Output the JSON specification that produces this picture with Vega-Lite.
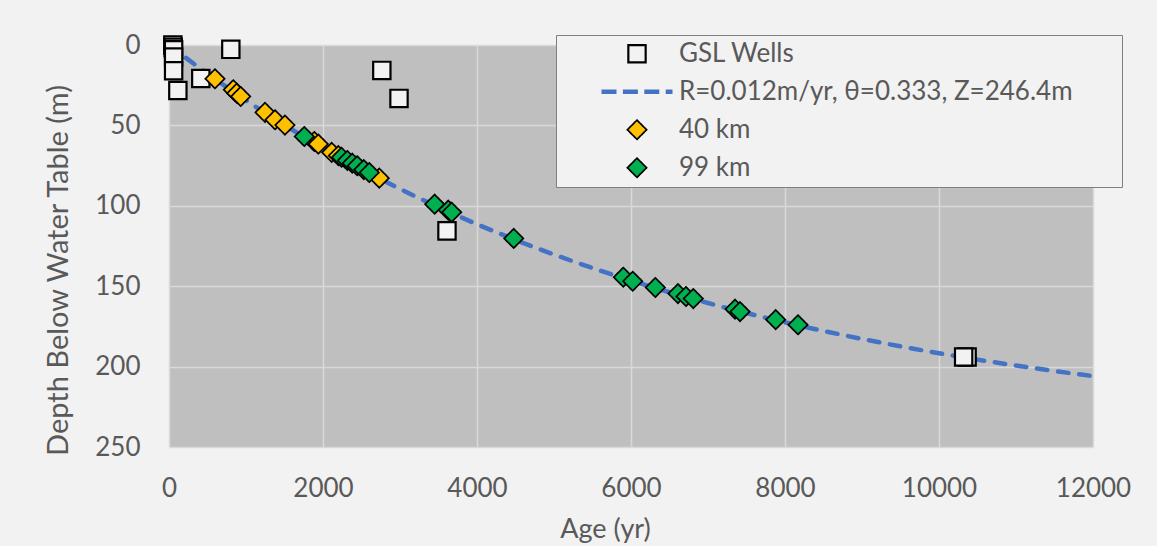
{
  "$schema": "https://vega.github.io/schema/vega-lite/v6.json",
  "width": 924,
  "height": 402,
  "autosize": {"type": "none"},
  "padding": {"left": 169, "top": 45, "right": 64, "bottom": 99},
  "background": "#F2F2F2",
  "config": {
    "font": "Lato",
    "view": {"fill": "#BFBFBF", "stroke": null},
    "legend": {
      "orient": "none",
      "legendX": 387,
      "legendY": -10,
      "padding": 0,
      "clipHeight": 37.5,
      "rowPadding": 0,
      "symbolOffset": 43,
      "labelOffset": 4,
      "labelFont": "Lato",
      "labelFontSize": 26,
      "labelColor": "#595959",
      "labelBaseline": "middle",
      "labelLimit": 600,
      "fillColor": "#F2F2F2",
      "strokeColor": "#7F7F7F",
      "symbolOpacity": 1,
      "titleOrient": "right",
      "titlePadding": 49,
      "titleFontSize": 10
    }
  },
  "datasets": {
    "curve": [
      {"series": "R=0.012m/yr, θ=0.333, Z=246.4m", "age": 0, "depth": 0},
      {"series": "R=0.012m/yr, θ=0.333, Z=246.4m", "age": 250, "depth": 9.1},
      {"series": "R=0.012m/yr, θ=0.333, Z=246.4m", "age": 500, "depth": 17.86},
      {"series": "R=0.012m/yr, θ=0.333, Z=246.4m", "age": 1000, "depth": 34.42},
      {"series": "R=0.012m/yr, θ=0.333, Z=246.4m", "age": 1500, "depth": 49.79},
      {"series": "R=0.012m/yr, θ=0.333, Z=246.4m", "age": 2000, "depth": 64.04},
      {"series": "R=0.012m/yr, θ=0.333, Z=246.4m", "age": 2500, "depth": 77.26},
      {"series": "R=0.012m/yr, θ=0.333, Z=246.4m", "age": 3000, "depth": 89.52},
      {"series": "R=0.012m/yr, θ=0.333, Z=246.4m", "age": 3500, "depth": 100.89},
      {"series": "R=0.012m/yr, θ=0.333, Z=246.4m", "age": 4000, "depth": 111.43},
      {"series": "R=0.012m/yr, θ=0.333, Z=246.4m", "age": 4500, "depth": 121.22},
      {"series": "R=0.012m/yr, θ=0.333, Z=246.4m", "age": 5000, "depth": 130.29},
      {"series": "R=0.012m/yr, θ=0.333, Z=246.4m", "age": 5500, "depth": 138.7},
      {"series": "R=0.012m/yr, θ=0.333, Z=246.4m", "age": 6000, "depth": 146.51},
      {"series": "R=0.012m/yr, θ=0.333, Z=246.4m", "age": 6500, "depth": 153.75},
      {"series": "R=0.012m/yr, θ=0.333, Z=246.4m", "age": 7000, "depth": 160.47},
      {"series": "R=0.012m/yr, θ=0.333, Z=246.4m", "age": 7500, "depth": 166.69},
      {"series": "R=0.012m/yr, θ=0.333, Z=246.4m", "age": 8000, "depth": 172.47},
      {"series": "R=0.012m/yr, θ=0.333, Z=246.4m", "age": 8500, "depth": 177.83},
      {"series": "R=0.012m/yr, θ=0.333, Z=246.4m", "age": 9000, "depth": 182.8},
      {"series": "R=0.012m/yr, θ=0.333, Z=246.4m", "age": 9500, "depth": 187.41},
      {"series": "R=0.012m/yr, θ=0.333, Z=246.4m", "age": 10000, "depth": 191.68},
      {"series": "R=0.012m/yr, θ=0.333, Z=246.4m", "age": 10500, "depth": 195.65},
      {"series": "R=0.012m/yr, θ=0.333, Z=246.4m", "age": 11000, "depth": 199.33},
      {"series": "R=0.012m/yr, θ=0.333, Z=246.4m", "age": 11500, "depth": 202.74},
      {"series": "R=0.012m/yr, θ=0.333, Z=246.4m", "age": 12000, "depth": 205.9}
    ],
    "samples": [
      {"series": "GSL Wells", "age": 50, "depth": 0},
      {"series": "GSL Wells", "age": 55, "depth": 1.5},
      {"series": "GSL Wells", "age": 60, "depth": 3},
      {"series": "GSL Wells", "age": 60, "depth": 7.5},
      {"series": "GSL Wells", "age": 60, "depth": 16},
      {"series": "GSL Wells", "age": 115, "depth": 28.3},
      {"series": "GSL Wells", "age": 413, "depth": 20.8},
      {"series": "GSL Wells", "age": 803, "depth": 2.7},
      {"series": "GSL Wells", "age": 2764, "depth": 15.8},
      {"series": "GSL Wells", "age": 2987, "depth": 33.2},
      {"series": "GSL Wells", "age": 3610, "depth": 115.6},
      {"series": "GSL Wells", "age": 10365, "depth": 194},
      {"series": "GSL Wells", "age": 10320, "depth": 194},
      {"series": "40 km", "age": 597, "depth": 21.0},
      {"series": "40 km", "age": 835, "depth": 27.8},
      {"series": "40 km", "age": 880, "depth": 30.0},
      {"series": "40 km", "age": 931, "depth": 32.0},
      {"series": "40 km", "age": 1247, "depth": 41.9},
      {"series": "40 km", "age": 1377, "depth": 46.5},
      {"series": "40 km", "age": 1506, "depth": 49.8},
      {"series": "40 km", "age": 1887, "depth": 60.0},
      {"series": "40 km", "age": 1939, "depth": 61.6},
      {"series": "40 km", "age": 2113, "depth": 66.8},
      {"series": "40 km", "age": 2200, "depth": 68.8},
      {"series": "40 km", "age": 2731, "depth": 82.8},
      {"series": "99 km", "age": 1757, "depth": 56.9},
      {"series": "99 km", "age": 2240, "depth": 69.8},
      {"series": "99 km", "age": 2316, "depth": 71.8},
      {"series": "99 km", "age": 2380, "depth": 73.5},
      {"series": "99 km", "age": 2445, "depth": 75.1},
      {"series": "99 km", "age": 2530, "depth": 77.5},
      {"series": "99 km", "age": 2601, "depth": 79.3},
      {"series": "99 km", "age": 3450, "depth": 99.0},
      {"series": "99 km", "age": 3627, "depth": 102.7},
      {"series": "99 km", "age": 3671, "depth": 104.0},
      {"series": "99 km", "age": 4477, "depth": 120.3},
      {"series": "99 km", "age": 5900, "depth": 144.4},
      {"series": "99 km", "age": 6022, "depth": 146.9},
      {"series": "99 km", "age": 6316, "depth": 150.8},
      {"series": "99 km", "age": 6610, "depth": 154.6},
      {"series": "99 km", "age": 6714, "depth": 156.4},
      {"series": "99 km", "age": 6809, "depth": 157.7},
      {"series": "99 km", "age": 7351, "depth": 164.3},
      {"series": "99 km", "age": 7416, "depth": 165.8},
      {"series": "99 km", "age": 7879, "depth": 170.8},
      {"series": "99 km", "age": 8169, "depth": 174.0}
    ]
  },
  "encoding": {
    "x": {
      "field": "age",
      "type": "quantitative",
      "scale": {"domain": [0, 12000], "nice": false, "zero": false},
      "axis": {
        "title": "Age (yr)",
        "values": [0, 2000, 4000, 6000, 8000, 10000, 12000],
        "format": "d",
        "grid": true,
        "gridColor": "#D9D9D9",
        "gridWidth": 1.5,
        "domain": false,
        "ticks": false,
        "tickSize": 0,
        "labelFlush": false,
        "labelFont": "Lato",
        "labelFontSize": 26,
        "labelColor": "#595959",
        "labelBaseline": "top",
        "labelPadding": 28,
        "titleFont": "Lato",
        "titleFontSize": 27,
        "titleFontWeight": "normal",
        "titleColor": "#595959",
        "titleBaseline": "alphabetic",
        "titleAlign": "center",
        "titleX": 436,
        "titleY": 90
      }
    },
    "y": {
      "field": "depth",
      "type": "quantitative",
      "scale": {"domain": [0, 250], "reverse": true, "nice": false},
      "axis": {
        "title": "Depth Below Water Table (m)",
        "values": [0, 50, 100, 150, 200, 250],
        "grid": true,
        "gridColor": "#D9D9D9",
        "gridWidth": 1.5,
        "domain": false,
        "ticks": false,
        "tickSize": 0,
        "labelFlush": false,
        "labelFont": "Lato",
        "labelFontSize": 26,
        "labelColor": "#595959",
        "labelPadding": 29,
        "titleFont": "Lato",
        "titleFontSize": 29,
        "titleFontWeight": "normal",
        "titleColor": "#595959",
        "titleBaseline": "alphabetic",
        "titleAlign": "center",
        "titleAngle": -90,
        "titleX": -102,
        "titleY": 225
      }
    }
  },
  "layer": [
    {
      "data": {"name": "curve"},
      "mark": {
        "type": "line",
        "interpolate": "monotone",
        "strokeDash": [10.5, 10.8],
        "strokeCap": "round"
      },
      "encoding": {
        "stroke": {
          "field": "series",
          "type": "nominal",
          "scale": {
            "domain": ["GSL Wells", "R=0.012m/yr, θ=0.333, Z=246.4m", "40 km", "99 km"],
            "range": ["#000000", "#4472C4", "#000000", "#000000"]
          },
          "legend": {"title": " "}
        },
        "strokeWidth": {
          "field": "series",
          "type": "nominal",
          "scale": {
            "type": "ordinal",
            "domain": ["GSL Wells", "R=0.012m/yr, θ=0.333, Z=246.4m", "40 km", "99 km"],
            "range": [2.2, 4.5, 1.7, 1.7]
          },
          "legend": {"title": " "}
        }
      }
    },
    {
      "data": {"name": "samples"},
      "mark": {"type": "point", "filled": true, "opacity": 1},
      "encoding": {
        "shape": {
          "field": "series",
          "type": "nominal",
          "scale": {
            "domain": ["GSL Wells", "R=0.012m/yr, θ=0.333, Z=246.4m", "40 km", "99 km"],
            "range": ["square", "stroke", "diamond", "diamond"]
          },
          "legend": {"title": " ", "orient": "none", "legendX": 387, "legendY": -10}
        },
        "fill": {
          "field": "series",
          "type": "nominal",
          "scale": {
            "domain": ["GSL Wells", "R=0.012m/yr, θ=0.333, Z=246.4m", "40 km", "99 km"],
            "range": ["#F2F2F2", "transparent", "#FFC000", "#00B050"]
          },
          "legend": {"title": " "}
        },
        "stroke": {
          "field": "series",
          "type": "nominal",
          "scale": {
            "domain": ["GSL Wells", "R=0.012m/yr, θ=0.333, Z=246.4m", "40 km", "99 km"],
            "range": ["#000000", "#4472C4", "#000000", "#000000"]
          },
          "legend": {"title": " "}
        },
        "size": {
          "field": "series",
          "type": "nominal",
          "scale": {
            "type": "ordinal",
            "domain": ["GSL Wells", "R=0.012m/yr, θ=0.333, Z=246.4m", "40 km", "99 km"],
            "range": [300, 5041, 370, 370]
          },
          "legend": {"title": " "}
        },
        "strokeWidth": {
          "field": "series",
          "type": "nominal",
          "scale": {
            "type": "ordinal",
            "domain": ["GSL Wells", "R=0.012m/yr, θ=0.333, Z=246.4m", "40 km", "99 km"],
            "range": [2.2, 4.5, 1.7, 1.7]
          },
          "legend": {"title": " "}
        },
        "strokeDash": {
          "field": "series",
          "type": "nominal",
          "scale": {
            "domain": ["GSL Wells", "R=0.012m/yr, θ=0.333, Z=246.4m", "40 km", "99 km"],
            "range": [[1, 0], [15, 6.4], [1, 0], [1, 0]]
          },
          "legend": {"title": " "}
        }
      }
    }
  ]
}
